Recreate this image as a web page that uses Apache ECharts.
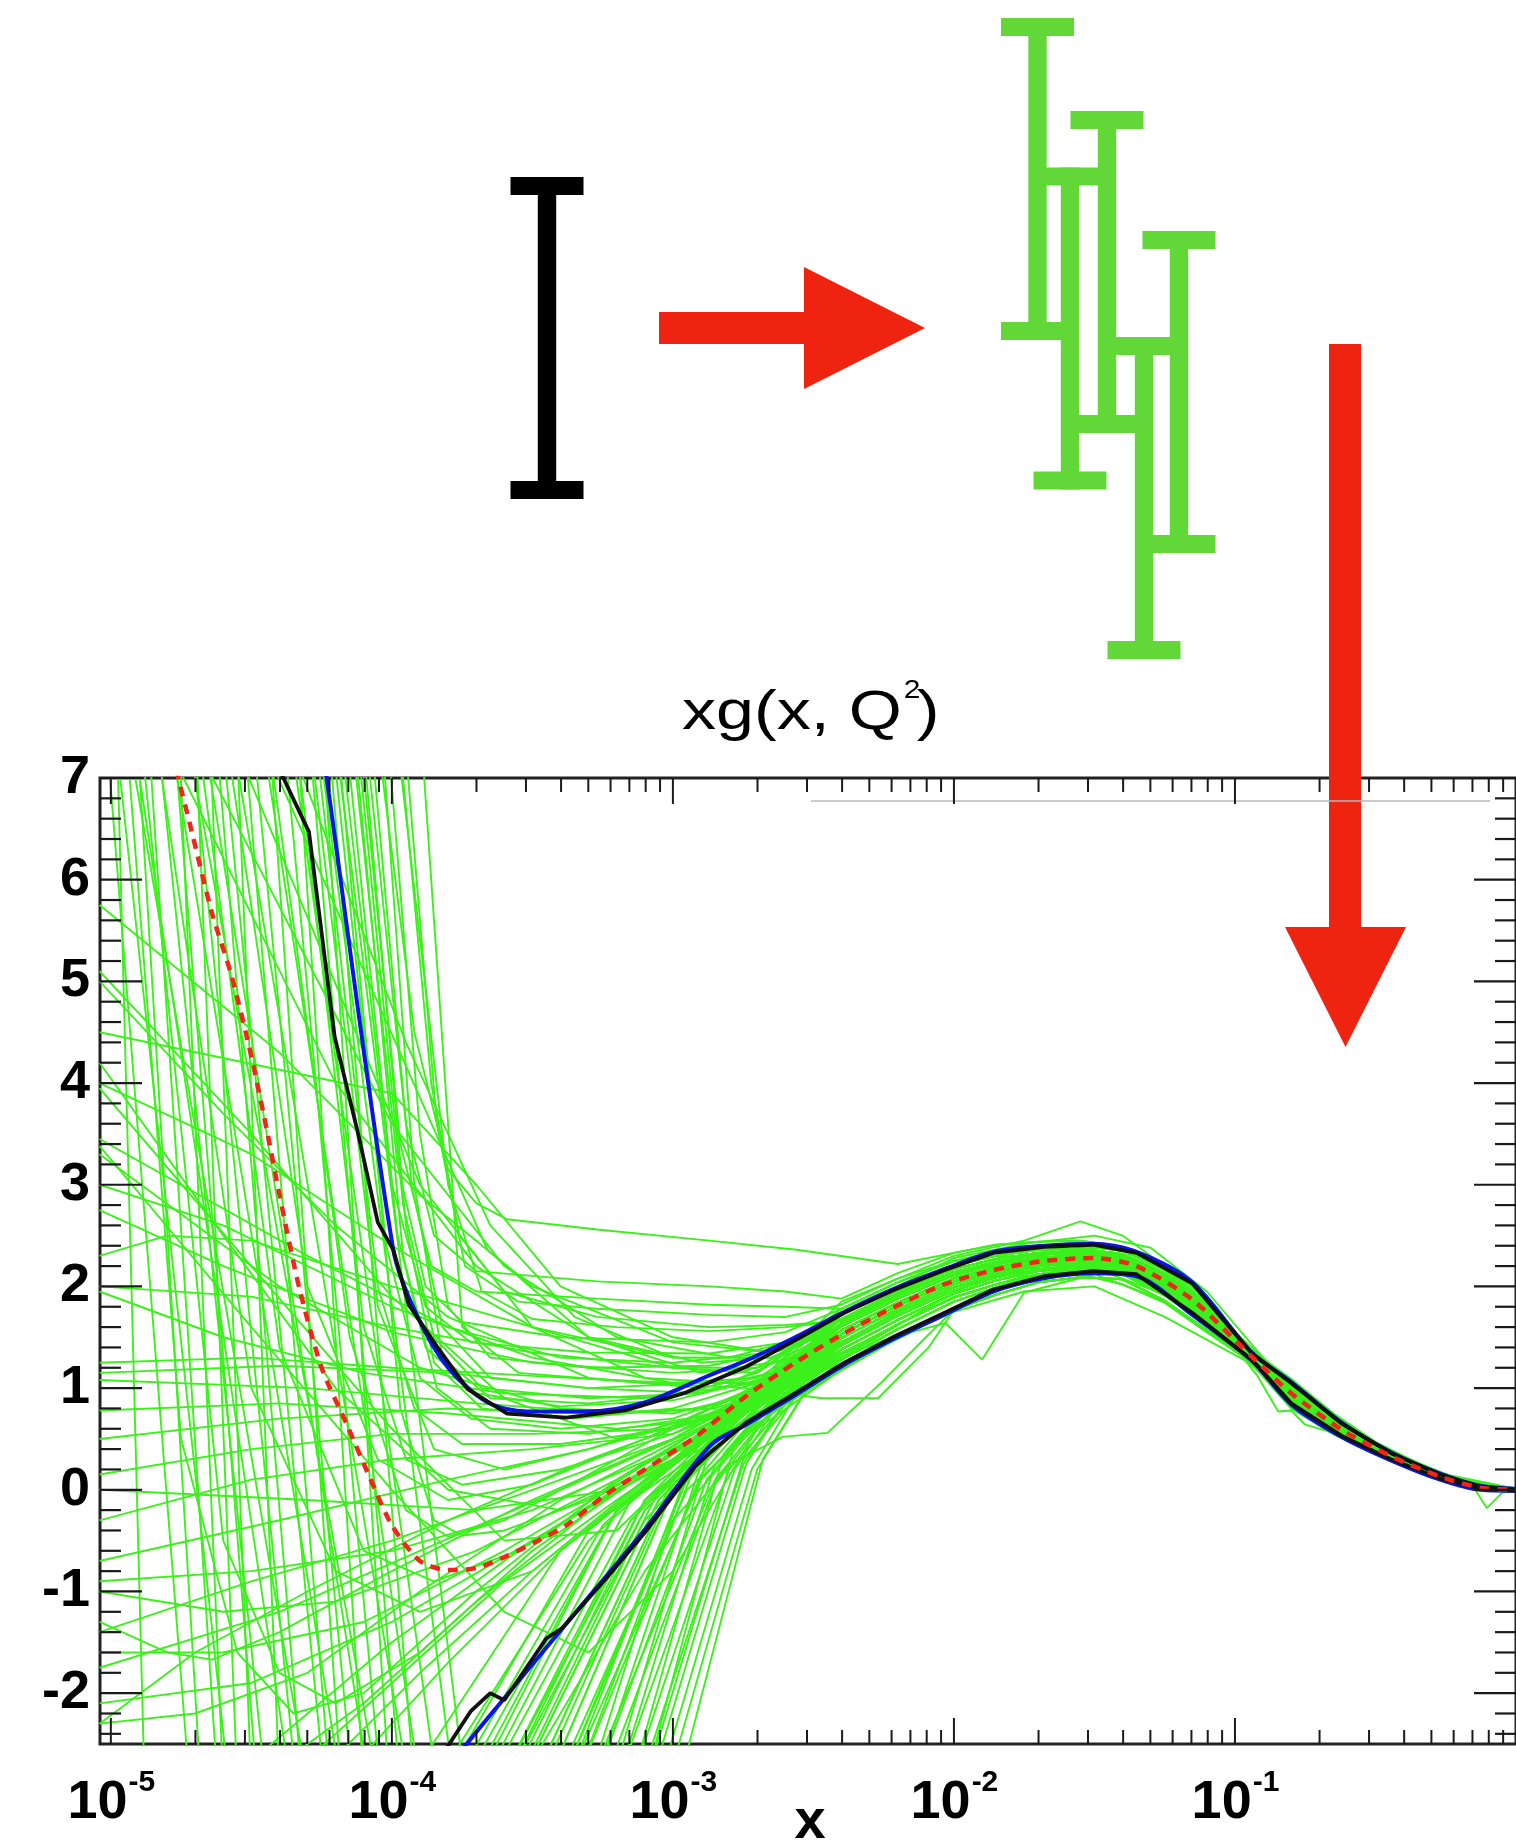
<!DOCTYPE html>
<html>
<head>
<meta charset="utf-8">
<title>xg(x, Q²)</title>
<script src="https://cdn.jsdelivr.net/npm/echarts/dist/echarts.min.js"></script>
<style>
  html, body { margin: 0; padding: 0; background: #fff; }
  #chart { width: 1516px; height: 1842px; }
</style>
</head>
<body>
<div id="chart"></div>
<script>
// ---------------- axis ranges ----------------
const X_MIN = 9.15e-6, X_MAX = 1;
const Y_MIN = -2.5, Y_MAX = 7;

// ---------------- ticks and labels ----------------
const xMajorTicks = [1e-5, 1e-4, 1e-3, 1e-2, 1e-1];
const xMajorExponents = ['-5', '-4', '-3', '-2', '-1'];
const xMinorMultipliers = [2, 3, 4, 5, 6, 7, 8, 9];
const yMajorTicks = [-2, -1, 0, 1, 2, 3, 4, 5, 6, 7];
const yMinorStep = 0.2;

// ---------------- central fit (red dashed), log10(x) / xg ----------------
const centralLogX = [-4.815,-4.76,-4.72,-4.64,-4.57,-4.50,-4.44,-4.40,-4.33,-4.25,-4.16,-4.08,-4.00,-3.90,-3.80,-3.70,-3.59,-3.48,-3.38,-3.24,-3.10,-2.92,-2.74,-2.565,-2.39,-2.21,-2.035,-1.86,-1.68,-1.505,-1.35,-1.152,-0.94,-0.80,-0.62,-0.445,-0.27,-0.127,0];
const centralY    = [7.6,7.0,6.56,5.67,5.05,4.26,3.47,2.9,1.99,1.20,0.64,0.13,-0.35,-0.70,-0.79,-0.77,-0.65,-0.50,-0.35,-0.05,0.20,0.52,0.92,1.25,1.54,1.80,2.02,2.16,2.25,2.28,2.20,1.87,1.31,0.95,0.59,0.33,0.13,0.02,0.0];

// ---------------- error envelope (black) ----------------
const upperLogX = [-4.49,-4.386,-4.295,-4.204,-4.12,-4.05,-3.995,-3.94,-3.84,-3.73,-3.59,-3.38,-3.17,-2.96,-2.74,-2.565,-2.39,-2.21,-2.035,-1.86,-1.68,-1.505,-1.35,-1.152,-0.94,-0.80,-0.62,-0.445,-0.27,-0.127,0];
const upperY    = [7.6,7.0,6.47,4.46,3.5,2.63,2.36,1.82,1.41,0.99,0.75,0.71,0.78,0.95,1.21,1.47,1.74,1.97,2.16,2.33,2.39,2.41,2.33,2.03,1.34,1.05,0.65,0.36,0.15,0.03,0.0];
const lowerLogX = [-3.89,-3.81,-3.72,-3.65,-3.60,-3.45,-3.394,-3.24,-3.10,-2.92,-2.866,-2.74,-2.565,-2.39,-2.21,-2.035,-1.86,-1.68,-1.505,-1.35,-1.152,-0.94,-0.80,-0.62,-0.445,-0.27,-0.127,0];
const lowerY    = [-2.9,-2.56,-2.18,-2.0,-2.07,-1.46,-1.36,-0.88,-0.42,0.23,0.37,0.66,0.95,1.25,1.51,1.74,1.97,2.10,2.15,2.12,1.74,1.28,0.85,0.53,0.30,0.11,0.01,-0.01];

// ---------------- alternative envelope (blue) ----------------
const blueUpLogX = [-4.263,-4.232,-3.995,-3.91,-3.80,-3.66,-3.52,-3.31,-3.10,-2.866,-2.74,-2.565,-2.39,-2.21,-2.035,-1.86,-1.68,-1.505,-1.35,-1.152,-0.94,-0.80,-0.62,-0.445,-0.27,-0.127,0];
const blueUpY    = [7.6,7.0,2.36,1.71,1.20,0.86,0.77,0.77,0.86,1.13,1.27,1.50,1.75,1.98,2.17,2.34,2.40,2.42,2.34,2.04,1.35,1.06,0.66,0.37,0.16,0.04,0.01];
const blueLoLogX = [-3.83,-3.75,-3.60,-3.38,-3.10,-2.866,-2.74,-2.565,-2.39,-2.21,-2.035,-1.86,-1.68,-1.505,-1.35,-1.152,-0.94,-0.80,-0.62,-0.445,-0.27,-0.127,0];
const blueLoY    = [-2.9,-2.56,-2.05,-1.32,-0.39,0.44,0.64,0.93,1.23,1.49,1.72,1.95,2.08,2.13,2.10,1.72,1.27,0.84,0.52,0.29,0.10,0.0,-0.01];

// ---------------- replica tails at large x ----------------
const tailLogX = [-2.4,-2.2,-2.0,-1.85,-1.7,-1.55,-1.4,-1.25,-1.1,-0.95,-0.8,-0.65,-0.5,-0.35,-0.2,0];
const tailA = [1.88,2.13,2.33,2.41,2.44,2.45,2.39,2.21,1.89,1.39,1.09,0.75,0.47,0.26,0.10,0.01];
const tailB = [1.78,2.04,2.25,2.34,2.39,2.40,2.35,2.16,1.85,1.38,1.05,0.72,0.45,0.25,0.09,0.01];
const tailC = [1.68,1.95,2.17,2.27,2.33,2.35,2.30,2.11,1.80,1.36,1.01,0.69,0.43,0.24,0.085,0];
const tailD = [1.61,1.88,2.11,2.22,2.28,2.31,2.26,2.07,1.76,1.35,0.98,0.67,0.42,0.23,0.08,0];
const tailE = [1.53,1.81,2.05,2.165,2.24,2.27,2.23,2.03,1.73,1.34,0.95,0.65,0.41,0.22,0.075,0];
const tailF = [1.45,1.74,1.99,2.11,2.20,2.23,2.20,1.99,1.70,1.33,0.92,0.63,0.40,0.21,0.07,0];
const tailG = [1.38,1.67,1.93,2.06,2.15,2.19,2.16,1.96,1.66,1.32,0.89,0.61,0.39,0.20,0.065,-0.01];
const tailH = [1.28,1.58,1.85,1.99,2.10,2.14,2.12,1.91,1.62,1.31,0.85,0.58,0.37,0.19,0.06,-0.01];
const tailI = [1.18,1.49,1.77,1.92,2.04,2.09,2.07,1.86,1.57,1.29,0.81,0.55,0.35,0.18,0.055,-0.02];
const tailJ = [1.82,2.08,2.25,2.30,2.29,2.25,2.15,1.93,1.62,1.30,0.86,0.59,0.37,0.19,0.06,0];
const tailK = [1.30,1.62,1.94,2.14,2.30,2.38,2.37,2.19,1.88,1.39,1.07,0.74,0.46,0.26,0.10,0.01];
const tailL = [1.66,1.93,2.14,2.20,2.18,2.12,2.02,1.84,1.55,1.27,0.80,0.55,0.35,0.18,0.05,0];
const tailM = [1.57,1.84,2.08,2.19,2.26,2.29,2.25,2.05,1.75,1.345,0.965,0.66,0.415,0.225,0.077,0];
const tailN = [1.49,1.78,2.02,2.14,2.22,2.25,2.21,2.01,1.71,1.335,0.935,0.64,0.405,0.215,0.073,0];
const tailO = [1.64,1.91,2.14,2.24,2.31,2.33,2.28,2.09,1.78,1.355,0.995,0.68,0.43,0.235,0.082,0];
const tailP = [1.42,1.71,1.96,2.09,2.17,2.21,2.18,1.97,1.68,1.325,0.905,0.62,0.39,0.205,0.068,-0.01];
const tailQ = [1.73,1.99,2.21,2.30,2.36,2.37,2.32,2.13,1.82,1.37,1.03,0.71,0.44,0.245,0.087,0.01];
const tailR = [1.33,1.63,1.89,2.02,2.12,2.17,2.14,1.93,1.64,1.31,0.87,0.59,0.38,0.195,0.063,-0.01];

// ---------------- replica heads at small x: [log10 x, xg] ----------------
const steepReplicas = [
  [[[-4.98,7.6],[-4.88,-2.9],[-4.3,-4.5],[-3.75,-2.9],[-3.2,-0.2],[-2.7,0.75]], tailH, 0],
  [[[-4.95,7.6],[-4.30,-2.9],[-4.0,-4.5],[-3.55,-2.9],[-3.05,-0.1],[-2.7,0.9]], tailF, 0],
  [[[-4.91,7.6],[-4.68,-2.9],[-4.2,-4.5],[-3.95,-2.9],[-3.4,-0.6],[-3.0,0.3],[-2.7,0.85]], tailG, 0],
  [[[-4.84,7.6],[-4.45,-2.9],[-4.0,-4.5],[-3.62,-2.9],[-3.1,-0.1],[-2.7,0.8]], tailE, 0],
  [[[-4.80,7.6],[-4.18,-2.9],[-3.9,-4.5],[-3.42,-2.9],[-2.95,0.0],[-2.65,0.75]], tailI, 0],
  [[[-4.76,7.6],[-4.60,-2.9],[-4.2,-4.5],[-3.85,-2.9],[-3.3,-0.5],[-2.9,0.5],[-2.7,0.95]], tailD, 0],
  [[[-4.72,7.6],[-4.34,-2.9],[-4.0,-4.5],[-3.30,-2.9],[-2.85,0.1],[-2.6,0.95]], tailH, 0],
  [[[-4.68,7.6],[-4.08,-2.9],[-3.8,-4.5],[-3.20,-2.9],[-2.8,0.2],[-2.55,1.0]], tailG, 0],
  [[[-4.65,7.6],[-4.50,-2.9],[-4.1,-4.5],[-3.78,-2.9],[-3.25,-0.35],[-2.9,0.55],[-2.7,1.0]], tailC, 0],
  [[[-4.61,7.6],[-4.24,-2.9],[-3.9,-4.5],[-3.50,-2.9],[-3.0,0.1],[-2.7,0.85]], tailF, 0],
  [[[-4.58,7.6],[-3.94,-2.9],[-3.7,-4.5],[-3.10,-2.9],[-2.75,0.3],[-2.55,0.95]], tailI, 0],
  [[[-4.555,7.6],[-4.40,-2.9],[-4.0,-4.5],[-3.66,-2.9],[-3.15,-0.3],[-2.8,0.65],[-2.6,1.0]], tailE, 0],
  [[[-4.50,7.6],[-4.14,-2.9],[-3.8,-4.5],[-3.38,-2.9],[-2.9,0.1],[-2.62,0.9]], tailH, 0],
  [[[-4.47,7.6],[-3.90,-2.9],[-3.6,-4.5],[-3.02,-2.9],[-2.7,0.2],[-2.52,1.0]], tailH, 0],
  [[[-4.39,7.6],[-4.04,-2.9],[-3.8,-4.5],[-3.58,-2.9],[-3.1,-0.2],[-2.75,0.8]], tailD, 0],
  [[[-4.37,7.6],[-3.84,-2.9],[-3.6,-4.5],[-3.25,-2.9],[-2.85,0.05],[-2.6,0.95]], tailF, 0],
  [[[-4.30,7.6],[-3.97,-2.9],[-3.7,-4.5],[-3.45,-2.9],[-3.0,0.0],[-2.7,0.8]], tailE, 0],
  [[[-4.27,7.6],[-3.78,-2.9],[-3.5,-4.5],[-3.12,-2.9],[-2.75,0.25],[-2.58,0.95]], tailG, 0],
  [[[-4.25,7.6],[-4.01,-2.9],[-3.8,-4.5],[-3.60,-2.9],[-3.1,-0.1],[-2.75,0.85]], tailC, 0],
  [[[-4.21,7.6],[-3.74,-2.9],[-3.5,-4.5],[-3.05,-2.9],[-2.72,0.2],[-2.56,0.95]], tailI, 0],
  [[[-5.02,7.6],[-4.72,-2.9],[-4.2,-4.5],[-3.68,-2.9],[-3.15,-0.1],[-2.7,0.9]], tailM, 0],
  [[[-4.99,7.6],[-4.58,-2.9],[-4.1,-4.5],[-3.48,-2.9],[-3.0,0.05],[-2.68,0.95]], tailN, 0],
  [[[-4.93,7.6],[-4.36,-2.9],[-4.0,-4.5],[-3.40,-2.9],[-2.95,0.1],[-2.66,0.9]], tailP, 0],
  [[[-4.87,7.6],[-4.62,-2.9],[-4.1,-4.5],[-3.72,-2.9],[-3.2,-0.2],[-2.8,0.75]], tailO, 0],
  [[[-4.78,7.6],[-4.48,-2.9],[-4.0,-4.5],[-3.35,-2.9],[-2.9,0.15],[-2.65,0.95]], tailR, 0],
  [[[-4.74,7.6],[-4.05,-2.9],[-3.8,-4.5],[-3.28,-2.9],[-2.88,0.1],[-2.62,0.95]], tailN, 0],
  [[[-4.70,7.6],[-4.55,-2.9],[-4.1,-4.5],[-3.82,-2.9],[-3.3,-0.4],[-2.9,0.5],[-2.7,0.95]], tailQ, 0],
  [[[-4.63,7.6],[-4.32,-2.9],[-3.9,-4.5],[-3.56,-2.9],[-3.05,0.0],[-2.7,0.85]], tailM, 0],
  [[[-4.53,7.6],[-4.22,-2.9],[-3.9,-4.5],[-3.15,-2.9],[-2.78,0.2],[-2.6,0.95]], tailP, 0],
  [[[-4.44,7.6],[-4.18,-2.9],[-3.9,-4.5],[-3.70,-2.9],[-3.2,-0.2],[-2.8,0.7]], tailO, 0],
  [[[-4.34,7.6],[-4.10,-2.9],[-3.8,-4.5],[-3.08,-2.9],[-2.74,0.25],[-2.57,1.0]], tailR, 0],
  [[[-4.23,7.6],[-3.92,-2.9],[-3.6,-4.5],[-2.98,-2.9],[-2.68,0.3],[-2.5,1.1]], tailN, 0]
];

const kneeReplicas = [
  [[[-4.06,7.6],[-3.92,4.5],[-3.80,3.15],[-3.70,2.82],[-3.59,2.66],[-3.27,2.56],[-2.87,2.45],[-2.56,2.36],[-2.2,2.22]], tailA, 2],
  [[[-4.10,7.6],[-3.95,3.6],[-3.85,2.5],[-3.70,2.15],[-3.27,2.05],[-2.87,2.0],[-2.6,1.95]], tailA, 0],
  [[[-4.12,7.6],[-3.97,3.4],[-3.86,2.2],[-3.70,1.95],[-3.27,1.88],[-2.87,1.82],[-2.6,1.8]], tailB, 0],
  [[[-4.15,7.6],[-3.98,3.2],[-3.88,2.0],[-3.75,1.65],[-3.4,1.5],[-2.87,1.45],[-2.6,1.55]], tailB, 0],
  [[[-4.19,7.6],[-4.0,3.0],[-3.88,1.8],[-3.72,1.45],[-3.3,1.35],[-2.87,1.34],[-2.6,1.45]], tailC, 0],
  [[[-4.02,7.6],[-3.90,3.5],[-3.80,1.8],[-3.65,1.3],[-3.3,1.2],[-2.87,1.22],[-2.6,1.38]], tailD, 0],
  [[[-4.08,7.6],[-3.93,3.0],[-3.82,1.6],[-3.65,1.1],[-3.3,1.0],[-2.9,1.05],[-2.6,1.28]], tailE, 0],
  [[[-3.98,7.6],[-3.86,4.0],[-3.76,2.5],[-3.6,1.95],[-3.27,1.7],[-2.87,1.6],[-2.6,1.62]], tailL, 0],
  [[[-3.96,7.6],[-3.84,3.6],[-3.74,2.2],[-3.55,1.85],[-3.27,1.78],[-2.87,1.72],[-2.6,1.7]], tailJ, 0],
  [[[-4.13,7.6],[-3.96,2.8],[-3.85,1.5],[-3.68,1.0],[-3.3,0.9],[-2.9,0.95],[-2.65,1.15]], tailF, 0],
  [[[-4.17,7.6],[-3.98,2.5],[-3.88,1.4],[-3.7,0.95],[-3.4,0.82],[-3.0,0.88],[-2.7,1.08]], tailF, 0],
  [[[-3.99,7.6],[-3.80,3.0],[-3.68,1.95],[-3.5,1.68],[-3.2,1.6],[-2.87,1.56],[-2.6,1.6]], tailL, 0],
  [[[-4.28,7.6],[-4.05,2.0],[-3.92,0.8],[-3.75,0.45],[-3.4,0.45],[-3.0,0.6],[-2.7,0.95]], tailN, 0],
  [[[-4.22,7.6],[-4.02,2.4],[-3.9,1.1],[-3.72,0.7],[-3.4,0.6],[-3.0,0.7],[-2.7,1.0]], tailM, 0],
  [[[-4.14,7.6],[-3.96,2.3],[-3.84,1.0],[-3.65,0.6],[-3.3,0.55],[-2.95,0.7],[-2.7,1.0]], tailO, 0],
  [[[-4.35,7.6],[-4.1,1.6],[-3.95,0.3],[-3.75,0.05],[-3.4,0.2],[-3.0,0.55],[-2.7,0.95]], tailP, 0],
  [[[-4.04,7.6],[-3.92,3.0],[-3.82,1.3],[-3.65,0.9],[-3.3,0.85],[-2.95,0.95],[-2.7,1.15]], tailQ, 0],
  [[[-4.11,7.6],[-3.95,2.6],[-3.85,1.25],[-3.68,0.8],[-3.35,0.7],[-3.0,0.8],[-2.7,1.05]], tailO, 0]
];

const dipReplicas = [
  [[[-4.45,7.6],[-4.15,1.5],[-3.95,-0.2],[-3.80,-0.46],[-3.6,-0.3],[-3.2,0.3],[-2.8,0.9],[-2.6,1.15]], tailE, 0],
  [[[-4.6,7.6],[-4.3,2.0],[-4.05,0.3],[-3.8,-0.1],[-3.5,0.05],[-3.1,0.5],[-2.75,0.95]], tailD, 0],
  [[[-4.85,7.6],[-4.5,1.0],[-4.2,-0.8],[-3.9,-1.2],[-3.5,-0.8],[-3.1,0.1],[-2.75,0.8]], tailG, 0],
  [[[-4.3,7.6],[-4.05,1.8],[-3.85,0.4],[-3.6,0.2],[-3.3,0.4],[-2.95,0.7],[-2.7,1.0]], tailD, 0],
  [[[-4.7,7.6],[-4.4,1.4],[-4.1,-0.6],[-3.85,-0.9],[-3.55,-0.6],[-3.2,0.0],[-2.8,0.75]], tailG, 0],
  [[[-4.2,7.6],[-3.97,0.8],[-3.85,-0.3],[-3.75,-0.45],[-3.6,-0.4],[-3.3,-0.1],[-2.9,0.6],[-2.65,1.0]], tailE, 0],
  [[[-3.55,-2.9],[-3.1,-0.8],[-2.8,0.25],[-2.61,0.52],[-2.45,0.56],[-2.26,1.05],[-2.1,1.5]], tailI, 2],
  [[[-3.9,7.6],[-3.75,1.6],[-3.55,1.15],[-3.1,1.05],[-2.74,1.0],[-2.47,0.9],[-2.27,0.9],[-2.09,1.4]], tailI, 2],
  [[[-3.4,-2.9],[-3.0,-0.3],[-2.7,0.65],[-2.4,1.22],[-2.15,1.55],[-2.03,1.64],[-1.90,1.28],[-1.75,1.94],[-1.5,2.12],[-1.25,1.86],[-1.0,1.38],[-0.75,0.76],[-0.5,0.37],[-0.25,0.09],[0,-0.01]], null, 0],
  [[[-4.95,7.6],[-4.75,0.5],[-4.55,-1.6],[-4.35,-2.2],[-4.1,-2.0],[-3.7,-1.0],[-3.2,0.1],[-2.75,0.85]], tailO, 0],
  [[[-4.9,7.6],[-4.6,-0.5],[-4.4,-1.8],[-4.2,-2.1],[-3.9,-1.6],[-3.5,-0.6],[-3.0,0.35],[-2.7,0.9]], tailQ, 0]
];

const edgeReplicas = [
  [[[-5.04,5.75],[-4.4,4.3],[-3.9,2.9],[-3.5,2.0],[-3.0,1.45],[-2.65,1.35]], tailC, 0],
  [[[-5.04,5.1],[-4.5,3.5],[-4.0,1.9],[-3.6,0.9],[-3.2,0.5],[-2.8,0.8],[-2.6,1.1]], tailF, 0],
  [[[-5.04,4.5],[-4.0,3.9],[-3.7,3.0],[-3.4,2.0],[-3.0,1.5],[-2.65,1.35]], tailD, 0],
  [[[-5.04,4.2],[-4.6,2.5],[-4.2,1.0],[-3.8,0.0],[-3.4,-0.2],[-3.0,0.3],[-2.7,0.85]], tailG, 0],
  [[[-5.04,3.95],[-4.5,2.2],[-4.0,0.6],[-3.6,-0.5],[-3.2,-0.4],[-2.9,0.4],[-2.65,0.95]], tailK, 0],
  [[[-5.04,3.45],[-4.3,2.3],[-3.8,1.6],[-3.4,1.3],[-3.0,1.25],[-2.65,1.35]], tailC, 0],
  [[[-5.04,3.38],[-4.5,1.6],[-4.0,0.0],[-3.6,-1.2],[-3.3,-1.6],[-3.0,-0.8],[-2.7,0.6]], tailI, 0],
  [[[-5.04,3.3],[-4.4,2.0],[-3.9,1.2],[-3.4,0.8],[-3.0,0.75],[-2.7,0.95]], tailE, 0],
  [[[-5.04,2.3],[-4.8,2.5],[-4.5,2.45],[-4.0,2.0],[-3.5,1.6],[-3.0,1.3],[-2.65,1.3]], tailD, 0],
  [[[-5.04,1.95],[-4.6,1.5],[-4.1,1.15],[-3.6,0.95],[-3.1,0.9],[-2.7,1.05]], tailE, 0],
  [[[-5.04,1.25],[-4.5,1.3],[-4.0,1.2],[-3.5,1.12],[-3.0,1.05],[-2.7,1.1]], tailD, 0],
  [[[-5.04,1.15],[-4.4,1.22],[-3.8,1.15],[-3.3,1.0],[-2.9,0.95],[-2.65,1.1]], tailE, 0],
  [[[-5.04,1.08],[-4.3,1.0],[-3.7,0.85],[-3.2,0.75],[-2.85,0.8],[-2.65,0.98]], tailF, 0],
  [[[-5.04,0.78],[-4.4,0.85],[-3.8,0.75],[-3.2,0.6],[-2.85,0.7],[-2.65,0.92]], tailK, 0],
  [[[-5.04,0.15],[-4.5,0.4],[-4.0,0.55],[-3.5,0.55],[-3.0,0.6],[-2.7,0.85]], tailF, 0],
  [[[-5.04,0.0],[-4.3,-0.1],[-3.7,-0.2],[-3.2,0.0],[-2.9,0.4],[-2.65,0.85]], tailG, 0],
  [[[-5.04,-0.7],[-4.4,-0.3],[-3.8,0.1],[-3.3,0.4],[-2.9,0.7],[-2.65,0.95]], tailE, 0],
  [[[-5.04,-0.9],[-4.5,-0.8],[-4.0,-0.6],[-3.5,-0.2],[-3.0,0.4],[-2.7,0.85]], tailF, 0],
  [[[-5.04,-1.4],[-4.5,-0.9],[-4.0,-0.5],[-3.5,0.0],[-3.0,0.5],[-2.7,0.95]], tailD, 0],
  [[[-5.04,-1.6],[-4.6,-1.6],[-4.1,-1.3],[-3.6,-0.6],[-3.1,0.2],[-2.75,0.8]], tailG, 0],
  [[[-5.04,-1.75],[-4.4,-1.2],[-3.9,-0.6],[-3.4,0.0],[-2.95,0.55],[-2.7,0.9]], tailE, 0],
  [[[-5.04,-2.1],[-4.5,-1.9],[-4.0,-1.3],[-3.5,-0.5],[-3.0,0.3],[-2.7,0.85]], tailH, 0],
  [[[-5.04,2.75],[-4.6,2.2],[-4.0,1.55],[-3.5,1.25],[-3.0,1.15],[-2.7,1.2]], tailC, 0],
  [[[-5.04,-1.3],[-4.8,-1.6],[-4.64,-1.67],[-4.4,-1.4],[-4.0,-0.8],[-3.5,-0.1],[-3.0,0.5],[-2.7,0.95]], tailE, 0],
  [[[-5.04,5.0],[-4.6,3.7],[-4.2,2.6],[-3.8,1.7],[-3.3,1.1],[-2.9,1.0],[-2.65,1.15]], tailD, 0],
  [[[-5.04,4.0],[-4.5,3.3],[-4.0,2.4],[-3.5,1.6],[-3.0,1.2],[-2.7,1.15]], tailQ, 0],
  [[[-5.04,3.0],[-4.6,2.6],[-4.0,1.8],[-3.5,1.3],[-3.0,1.05],[-2.7,1.05]], tailO, 0],
  [[[-5.04,2.0],[-4.5,1.9],[-4.0,1.6],[-3.5,1.35],[-3.0,1.2],[-2.7,1.2]], tailC, 0],
  [[[-5.04,0.5],[-4.4,0.7],[-3.8,0.8],[-3.3,0.75],[-2.9,0.8],[-2.65,0.98]], tailN, 0],
  [[[-5.04,-0.3],[-4.5,0.1],[-4.0,0.3],[-3.5,0.4],[-3.0,0.55],[-2.7,0.88]], tailP, 0],
  [[[-5.04,-1.0],[-4.6,-1.2],[-4.2,-1.1],[-3.7,-0.6],[-3.2,0.1],[-2.8,0.7]], tailR, 0],
  [[[-5.04,-2.3],[-4.7,-1.6],[-4.3,-1.0],[-3.8,-0.3],[-3.3,0.3],[-2.85,0.75]], tailM, 0]
];

const risingReplicas = [
  [[[-5.04,-4.0],[-4.6,-2.9],[-4.0,-1.5],[-3.5,-0.5],[-3.0,0.35],[-2.7,0.85]], tailE, 0],
  [[[-5.04,-3.5],[-4.5,-2.9],[-4.1,-2.1],[-3.7,-1.1],[-3.2,0.0],[-2.75,0.8]], tailN, 0],
  [[[-5.04,-2.3],[-4.7,-2.2],[-4.3,-1.8],[-3.9,-1.0],[-3.4,-0.1],[-2.9,0.6],[-2.65,0.95]], tailM, 0],
  [[[-5.04,-4.0],[-4.4,-2.9],[-4.0,-1.9],[-3.6,-0.9],[-3.2,-0.1],[-2.8,0.65],[-2.6,1.0]], tailR, 0],
  [[[-5.04,-4.0],[-4.3,-2.9],[-3.9,-1.8],[-3.5,-0.8],[-3.1,0.1],[-2.75,0.8]], tailP, 0],
  [[[-5.04,-4.0],[-4.2,-2.9],[-3.8,-1.7],[-3.4,-0.6],[-3.0,0.25],[-2.7,0.85]], tailF, 0],
  [[[-3.45,-2.9],[-3.0,0.0],[-2.7,0.9]], tailM, 0],
  [[[-3.38,-2.9],[-2.95,0.15],[-2.68,0.95]], tailO, 0],
  [[[-3.28,-2.9],[-2.9,0.25],[-2.65,0.95]], tailP, 0],
  [[[-3.22,-2.9],[-2.88,0.3],[-2.64,1.0]], tailQ, 0],
  [[[-3.15,-2.9],[-2.82,0.35],[-2.6,1.05]], tailR, 0],
  [[[-3.1,-2.9],[-2.78,0.45],[-2.58,1.1]], tailN, 0],
  [[[-3.55,-2.9],[-3.05,-0.1],[-2.72,0.85]], tailE, 0],
  [[[-3.62,-2.9],[-3.1,-0.2],[-2.75,0.8]], tailD, 0]
];

const slopeReplicas = [
  [[[-4.75,7.6],[-4.0,3.6],[-3.6,2.2],[-3.2,1.5],[-2.8,1.3],[-2.6,1.45]], tailC, 0],
  [[[-4.6,7.6],[-3.9,3.0],[-3.5,1.6],[-3.1,1.1],[-2.8,1.05],[-2.6,1.3]], tailD, 0],
  [[[-4.5,7.6],[-3.66,2.36],[-3.3,1.5],[-2.9,1.15],[-2.65,1.25]], tailB, 0],
  [[[-4.85,7.6],[-4.2,4.0],[-3.7,2.2],[-3.3,1.5],[-2.9,1.25],[-2.65,1.3]], tailD, 0],
  [[[-4.4,7.6],[-3.95,4.4],[-3.65,2.6],[-3.35,1.7],[-3.0,1.3],[-2.65,1.3]], tailD, 0]
];

const bandReplicas = [
  [[[-3.3,-2.9],[-2.95,0.2],[-2.7,1.05],[-2.4,1.85],[-2.0,2.3],[-1.75,2.45],[-1.55,2.64],[-1.4,2.5],[-1.25,2.2],[-1.0,1.55],[-0.75,0.92],[-0.5,0.45],[-0.25,0.15],[0,0.01]], null, 0],
  [[[-3.5,-2.9],[-3.05,-0.2],[-2.7,0.8],[-2.4,1.35],[-2.0,1.9],[-1.75,2.1],[-1.5,2.18],[-1.25,1.92],[-1.0,1.4],[-0.92,1.12],[-0.846,0.77],[-0.8,0.78],[-0.75,0.64],[-0.6,0.52],[-0.5,0.38],[-0.25,0.09],[0,-0.01]], null, 0],
  [[[-3.2,-2.9],[-2.85,0.25],[-2.6,1.0],[-2.4,1.5],[-2.0,2.02],[-1.75,2.2],[-1.5,2.27],[-1.25,2.0],[-1.0,1.45],[-0.75,0.84],[-0.5,0.4],[-0.25,0.11],[-0.15,0.02],[-0.104,-0.18],[-0.05,-0.03],[0,0]], null, 0],
  [[[-3.6,-2.9],[-3.1,-0.3],[-2.75,0.75],[-2.4,1.3],[-2.0,1.75],[-1.75,1.95],[-1.5,2.0],[-1.25,1.7],[-0.95,1.25],[-0.75,0.8],[-0.5,0.38],[-0.25,0.1],[0,0]], null, 0],
  [[[-3.35,-2.9],[-2.9,0.4],[-2.6,1.3],[-2.4,1.72],[-2.0,2.28],[-1.75,2.42],[-1.5,2.5],[-1.3,2.38],[-1.1,1.95],[-0.9,1.3],[-0.75,0.9],[-0.5,0.44],[-0.25,0.14],[0,0]], null, 0]
];

// ---------------- styling ----------------
const FONT = '"Liberation Sans", Arial, Helvetica, sans-serif';
const GREEN = '#3cf01c';
const TICK_COLOR = '#1a1a1a';

const measureCtx = document.createElement('canvas').getContext('2d');
function textWidth(text, size, weight) {
  measureCtx.font = weight + ' ' + size + 'px ' + FONT;
  return measureCtx.measureText(text).width;
}

function toData(logX, ys) {
  return logX.map((lx, i) => [Math.pow(10, lx), ys[i]]);
}
function replicaData(rep) {
  const head = rep[0], tail = rep[1], from = rep[2];
  const pts = head.slice();
  if (tail) {
    for (let i = from; i < tailLogX.length; i++) pts.push([tailLogX[i], tail[i]]);
  }
  return pts.map(p => [Math.pow(10, p[0]), p[1]]);
}

const series = [];
[steepReplicas, kneeReplicas, dipReplicas, edgeReplicas, risingReplicas, slopeReplicas, bandReplicas].forEach(group => {
  group.forEach(rep => {
    series.push({
      type: 'line', data: replicaData(rep), showSymbol: false, symbol: 'none',
      silent: true, z: 2, lineStyle: { color: GREEN, width: 1.9 }
    });
  });
});

series.push({ type: 'line', data: toData(blueUpLogX, blueUpY), showSymbol: false, symbol: 'none', silent: true, z: 3, smooth: 0.3, lineStyle: { color: '#0a14e6', width: 4 } });
series.push({ type: 'line', data: toData(blueLoLogX, blueLoY), showSymbol: false, symbol: 'none', silent: true, z: 3, smooth: 0.3, lineStyle: { color: '#0a14e6', width: 4 } });
series.push({ type: 'line', data: toData(upperLogX, upperY), showSymbol: false, symbol: 'none', silent: true, z: 4, lineStyle: { color: '#111', width: 3.8 } });
series.push({ type: 'line', data: toData(lowerLogX, lowerY), showSymbol: false, symbol: 'none', silent: true, z: 4, lineStyle: { color: '#111', width: 3.8 } });
series.push({ type: 'line', data: toData(centralLogX, centralY), showSymbol: false, symbol: 'none', silent: true, z: 5, smooth: 0.25, lineStyle: { color: '#f0261a', width: 4.5, type: [10, 8] } });

// ---------------- frame ticks (top/bottom and left/right) ----------------
const xTickData = [];
xMajorTicks.forEach((v, i) => xTickData.push([v, 1, i]));
for (let e = -5; e <= -1; e++) {
  xMinorMultipliers.forEach(m => xTickData.push([m * Math.pow(10, e), 0, -1]));
}
const yTickData = [];
for (let k = -12; k <= 35; k++) {
  const v = +(k * yMinorStep).toFixed(1);
  if (v <= Y_MIN || v > Y_MAX) continue;
  yTickData.push([X_MIN, v, yMajorTicks.indexOf(v) >= 0 ? 1 : 0]);
}

const W10 = textWidth('10', 54, 'bold');

series.push({
  type: 'custom', data: xTickData, clip: false, silent: true, z: 10,
  renderItem: function (params, api) {
    const v = api.value(0);
    const major = api.value(1) === 1;
    const b = api.coord([v, Y_MIN]);
    const t = api.coord([v, Y_MAX]);
    const len = major ? 26 : 14;
    const children = [
      { type: 'line', shape: { x1: b[0], y1: b[1], x2: b[0], y2: b[1] - len }, style: { stroke: TICK_COLOR, lineWidth: 2 } },
      { type: 'line', shape: { x1: t[0], y1: t[1], x2: t[0], y2: t[1] + len }, style: { stroke: TICK_COLOR, lineWidth: 2 } }
    ];
    if (major) {
      const sup = xMajorExponents[api.value(2)];
      const ws = textWidth(sup, 30, 'bold');
      const left = b[0] - (W10 + ws) / 2;
      children.push({ type: 'text', x: left, y: b[1] + 59,
        style: { text: '10', fill: '#000', fontSize: 54, fontWeight: 'bold', fontFamily: FONT, align: 'left', verticalAlign: 'middle' } });
      children.push({ type: 'text', x: left + W10 + 1, y: b[1] + 39,
        style: { text: sup, fill: '#000', fontSize: 30, fontWeight: 'bold', fontFamily: FONT, align: 'left', verticalAlign: 'middle' } });
    }
    return { type: 'group', children: children };
  }
});

series.push({
  type: 'custom', data: yTickData, clip: false, silent: true, z: 10,
  renderItem: function (params, api) {
    const v = api.value(1);
    const major = api.value(2) === 1;
    const l = api.coord([X_MIN, v]);
    const r = api.coord([X_MAX, v]);
    const len = major ? 42 : 21;
    const children = [
      { type: 'line', shape: { x1: l[0], y1: l[1], x2: l[0] + len, y2: l[1] }, style: { stroke: TICK_COLOR, lineWidth: 2.2 } },
      { type: 'line', shape: { x1: r[0], y1: r[1], x2: r[0] - len, y2: r[1] }, style: { stroke: TICK_COLOR, lineWidth: 2.2 } }
    ];
    if (major) {
      children.push({ type: 'text', x: l[0] - 10, y: l[1],
        style: { text: String(v), fill: '#000', fontSize: 54, fontWeight: 'bold', fontFamily: FONT, align: 'right', verticalAlign: 'middle' } });
    }
    return { type: 'group', children: children };
  }
});

// ---------------- illustration above the plot ----------------
function iBar(cx, top, color) {
  return { type: 'group', children: [
    { type: 'rect', shape: { x: cx - 9.2, y: top, width: 18.4, height: 322 }, style: { fill: color } },
    { type: 'rect', shape: { x: cx - 36.5, y: top, width: 73, height: 18 }, style: { fill: color } },
    { type: 'rect', shape: { x: cx - 36.5, y: top + 304, width: 73, height: 18 }, style: { fill: color } }
  ] };
}
const ARROW_RED = '#ee2310';
const BAR_GREEN = '#62d838';

const TITLE_SCALE = 1.24;
const wTitle = textWidth('xg(x, Q', 55, 'normal') * TITLE_SCALE;
const titleLeft = 682;

const graphic = [
  iBar(547, 177, '#000'),
  { type: 'rect', shape: { x: 659, y: 312, width: 146, height: 32 }, style: { fill: ARROW_RED } },
  { type: 'polygon', shape: { points: [[804, 267], [925, 328], [804, 389]] }, style: { fill: ARROW_RED } },
  iBar(1037.5, 18, BAR_GREEN),
  iBar(1070, 167.5, BAR_GREEN),
  iBar(1107, 111, BAR_GREEN),
  iBar(1144, 337, BAR_GREEN),
  iBar(1179, 231, BAR_GREEN),
  { type: 'rect', shape: { x: 1329, y: 344, width: 32, height: 585 }, style: { fill: ARROW_RED } },
  { type: 'polygon', shape: { points: [[1285, 927], [1406, 927], [1345.5, 1047]] }, style: { fill: ARROW_RED } },
  { type: 'text', x: titleLeft, y: 714, scaleX: TITLE_SCALE,
    style: { text: 'xg(x, Q', fill: '#000', fontSize: 55, fontWeight: 'normal', fontFamily: FONT, align: 'left', verticalAlign: 'middle' } },
  { type: 'text', x: titleLeft + wTitle + 2, y: 691, scaleX: 1.15,
    style: { text: '2', fill: '#000', fontSize: 26, fontWeight: 'normal', fontFamily: FONT, align: 'left', verticalAlign: 'middle' } },
  { type: 'text', x: titleLeft + wTitle + 15, y: 714, scaleX: TITLE_SCALE,
    style: { text: ')', fill: '#000', fontSize: 55, fontWeight: 'normal', fontFamily: FONT, align: 'left', verticalAlign: 'middle' } },
  { type: 'text', x: 810, y: 1823,
    style: { text: 'x', fill: '#000', fontSize: 56, fontWeight: 'bold', fontFamily: FONT, align: 'center', verticalAlign: 'middle' } },
  { type: 'line', shape: { x1: 811, y1: 801, x2: 1490, y2: 801 }, style: { stroke: '#b8b8b8', lineWidth: 1.5 } }
];

const chart = echarts.init(document.getElementById('chart'), null, { renderer: 'canvas', width: 1516, height: 1842 });
chart.setOption({
  animation: false,
  backgroundColor: '#ffffff',
  grid: { left: 100, top: 778, width: 1426, height: 966, show: true, borderColor: '#222', borderWidth: 3, backgroundColor: 'transparent' },
  xAxis: { type: 'log', logBase: 10, min: X_MIN, max: X_MAX,
    axisLine: { show: false }, axisTick: { show: false }, axisLabel: { show: false }, splitLine: { show: false } },
  yAxis: { type: 'value', min: Y_MIN, max: Y_MAX,
    axisLine: { show: false }, axisTick: { show: false }, axisLabel: { show: false }, splitLine: { show: false } },
  graphic: graphic,
  series: series
});
</script>
</body>
</html>
